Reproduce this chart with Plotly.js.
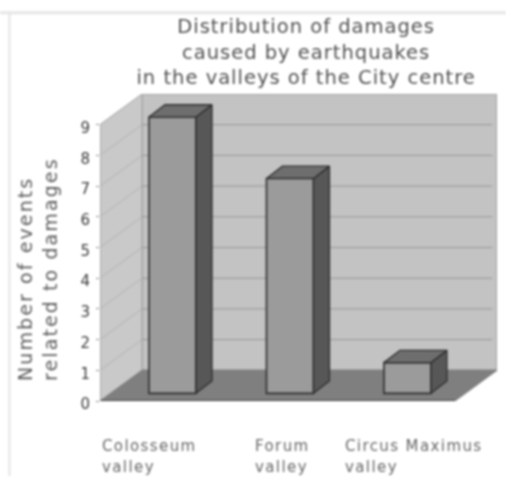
<!DOCTYPE html>
<html>
<head>
<meta charset="utf-8">
<script src="https://cdn.plot.ly/plotly-3.0.1.min.js"></script>
<style>
html,body{margin:0;padding:0;background:#fff}
#chart{width:506px;height:477px;filter:blur(0.9px)}
#chart .gtitle{letter-spacing:1px}
#chart .annotation-text{letter-spacing:1.4px}
#chart .annotation[data-index="0"] .annotation-text{letter-spacing:2.1px}
</style>
</head>
<body>
<div id="chart"></div>
<script>
const categoryNames = ["Colosseum", "Forum", "Circus Maximus"];
const categorySuffix = "valley";
const damageEvents = [9, 7, 1];
const yTicks = [0, 1, 2, 3, 4, 5, 6, 7, 8, 9];
const chartTitle = "Distribution of damages<br>caused by earthquakes<br>in the valleys of the City centre";
const yTitle = "Number of events<br>related to damages";

const xPos = categoryNames.map((_, i) => i);
const X0 = -0.617, X1 = 2.762;
const floorDX = 0.3574;           // wall depth in x units
const base = 0.25, barW = 0.4, barDX = 0.136, barDY = 0.4;
const FONT = "DejaVu Sans, sans-serif";

const traces = [{
  type: "bar", x: xPos, y: damageEvents, base: base, width: barW,
  marker: {color: "#9b9b9b", line: {color: "#2e2e2e", width: 1.6}},
  hoverinfo: "skip", showlegend: false
}];
function face(xs, ys, color) {
  traces.push({type: "scatter", mode: "lines", x: xs, y: ys, fill: "toself", fillcolor: color,
    line: {color: "#2e2e2e", width: 1.3}, hoverinfo: "skip", showlegend: false});
}
damageEvents.forEach((v, i) => {
  const l = i - barW / 2, r = i + barW / 2, t = base + v;
  face([r, r + barDX, r + barDX, r, r], [base, base + barDY, t + barDY, t, base], "#575757");
  face([l, l + barDX, r + barDX, r, l], [t, t + barDY, t + barDY, t, t], "#6e6e6e");
});

function poly(pts, fill, lineColor, w) {
  const path = pts.map((p, i) => (i ? "L" : "M") + p[0] + "," + p[1]).join(" ") + " Z";
  return {type: "path", path, xref: "x", yref: "y", layer: "below", fillcolor: fill,
    line: {color: lineColor, width: w}};
}
function seg(x0, y0, x1, y1, color, w) {
  return {type: "line", xref: "x", yref: "y", x0, y0, x1, y1, layer: "below", line: {color, width: w}};
}
const XB = X0 + floorDX, XR = X1 - floorDX;
const shapes = [
  {type: "line", xref: "paper", yref: "paper", x0: -0.252, x1: 1.025, y0: 1.265, y1: 1.265, line: {color: "#e6e6e6", width: 3}, layer: "below"},
  {type: "line", xref: "paper", yref: "paper", x0: -0.228, x1: -0.228, y0: -0.245, y1: 1.265, line: {color: "#e4e4e4", width: 2}, layer: "below"},
  poly([[XB, 1], [X1, 1], [X1, 10], [XB, 10]], "#c3c3c3", "#a2a2a2", 2),
  poly([[X0, 0], [XB, 1], [XB, 10], [X0, 9]], "#c9c9c9", "#a8a8a8", 1),
  poly([[X0, 0], [XR, 0], [X1, 1], [XB, 1]], "#7f7f7f", "#7f7f7f", 1),
  seg(X0, 0, XR, 0, "#3c3c3c", 2),
  seg(X0, 0, X0, 9, "#999", 1)
];
yTicks.slice(1).forEach(k => {
  shapes.push(seg(X0, k, XB, k + 1, "#b2b2b2", 1));
  if (k < 9) shapes.push(seg(XB, k + 1, X1 - 0.04, k + 1, "#969696", 1));
});

const annotations = [{
  text: yTitle, xref: "paper", yref: "paper", x: -0.157, y: 0.367, xanchor: "center", yanchor: "middle",
  textangle: -90, align: "left", showarrow: false, font: {family: FONT, size: 19, color: "#5f5f5f"}
}];
const labelX = [-0.617, 0.685, 1.45];
categoryNames.forEach((name, i) => {
  annotations.push({text: name, xref: "x", yref: "paper", x: labelX[i], y: -0.146, xanchor: "left", yanchor: "middle",
    align: "left", showarrow: false, font: {family: FONT, size: 15, color: "#666"}});
  annotations.push({text: categorySuffix, xref: "x", yref: "paper", x: labelX[i], y: -0.215, xanchor: "left", yanchor: "middle",
    align: "left", showarrow: false, font: {family: FONT, size: 15, color: "#666"}});
});

const layout = {
  width: 506, height: 477, autosize: false, showlegend: false,
  paper_bgcolor: "#fff", plot_bgcolor: "rgba(0,0,0,0)",
  margin: {l: 100, r: 9, t: 94, b: 75.5, pad: 0},
  title: {text: chartTitle, x: 0.605, xanchor: "center", y: 0.93, yref: "container", yanchor: "top",
    font: {family: FONT, size: 19.5, color: "#505050"}},
  xaxis: {range: [X0, X1], showgrid: false, zeroline: false, showticklabels: false, ticks: "", showline: false, fixedrange: true},
  yaxis: {range: [0, 10], tickvals: yTicks, ticktext: yTicks.map(String), showgrid: false, zeroline: false,
    ticks: "outside", ticklen: 3, tickcolor: "#888", showline: false, ticklabelstandoff: 3, ticklabelshift: 3,
    tickfont: {family: FONT, size: 15, color: "#383838"}, fixedrange: true},
  shapes, annotations, barmode: "overlay"
};
Plotly.newPlot("chart", traces, layout, {displayModeBar: false, staticPlot: true});
</script>
</body>
</html>
